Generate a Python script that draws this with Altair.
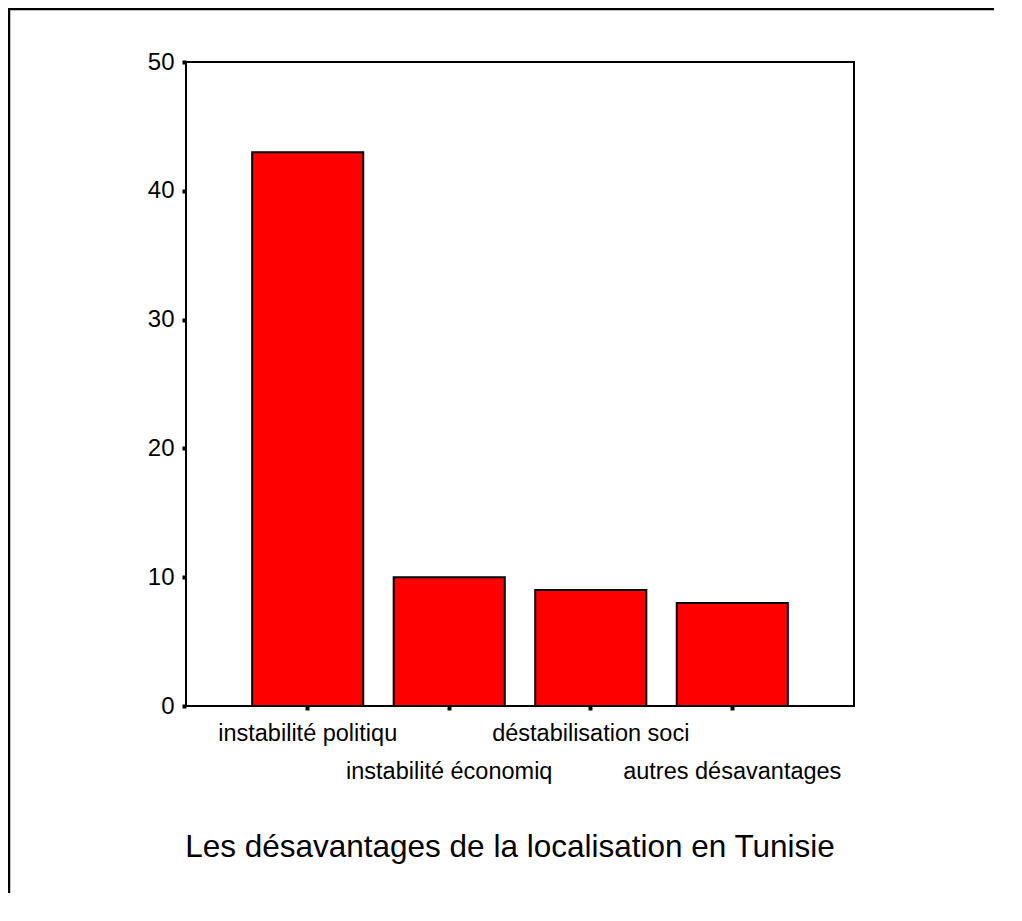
import altair as alt
import pandas as pd

categories = ["instabilité politiqu", "instabilité économiq", "déstabilisation soci", "autres désavantages"]
values = [43, 10, 9, 8]
label_rows = [0, 1, 0, 1]
y_ticks = [0, 10, 20, 30, 40, 50]
title_text = "Les désavantages de la localisation en Tunisie"

FONT = "Liberation Sans, Arial, sans-serif"
W, H = 668, 644
PAD_R, PAD_B = 160, 207

df = pd.DataFrame({"cat": categories, "val": values, "row": label_rows})

xscale = alt.Scale(domain=categories, paddingInner=0.215, paddingOuter=0.4675)
yscale = alt.Scale(domain=[0, 50], nice=False)

base = alt.Chart(df)

bars = base.mark_bar(color="#ff0000", stroke="black", strokeWidth=2).encode(
    x=alt.X("cat:N", scale=xscale, sort=categories,
            axis=alt.Axis(title=None, labels=False, domain=False, ticks=True,
                          tickSize=4, tickWidth=4, tickColor="black")),
    y=alt.Y("val:Q", scale=yscale,
            axis=alt.Axis(title=None, values=y_ticks, domain=False, grid=False,
                          tickSize=4, tickWidth=4, tickColor="black",
                          labelFont=FONT, labelFontSize=24, labelColor="black",
                          labelPadding=8)),
)

row1 = base.transform_filter("datum.row == 0").mark_text(
    font=FONT, fontSize=23.5, color="black", baseline="alphabetic", align="center"
).encode(x=alt.X("cat:N", scale=xscale, sort=categories), y=alt.value(H + 35), text="cat:N")

row2 = base.transform_filter("datum.row == 1").mark_text(
    font=FONT, fontSize=23.5, color="black", baseline="alphabetic", align="center"
).encode(x=alt.X("cat:N", scale=xscale, sort=categories), y=alt.value(H + 73), text="cat:N")

title = alt.Chart(pd.DataFrame({"t": [title_text]})).mark_text(
    font=FONT, fontSize=31.5, color="black", baseline="alphabetic", align="center"
).encode(x=alt.value(324), y=alt.value(795), text="t:N")

border_left = alt.Chart(pd.DataFrame({"a": [0]})).mark_rule(
    color="black", strokeWidth=2.5
).encode(x=alt.value(-177), y=alt.value(-54), y2=alt.value(H + PAD_B - 20))

border_top = alt.Chart(pd.DataFrame({"a": [0]})).mark_rule(
    color="black", strokeWidth=2.5
).encode(y=alt.value(-53), x=alt.value(-178), x2=alt.value(W + PAD_R - 20))

chart = alt.layer(border_left, border_top, bars, row1, row2, title).properties(
    width=W, height=H,
    padding={"left": 178, "top": 54, "right": PAD_R, "bottom": PAD_B},
    autosize=alt.AutoSizeParams(type="none"),
    background="white",
).configure_view(stroke="black", strokeWidth=2)

chart.save("out.html", embed_options={"renderer": "svg", "actions": False})
